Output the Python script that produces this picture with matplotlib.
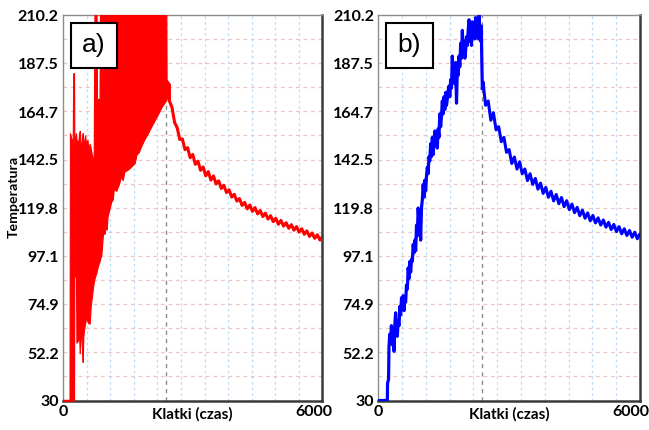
import numpy as np
import matplotlib.pyplot as plt
from matplotlib.patches import Rectangle
from matplotlib.transforms import ScaledTranslation

# axis values
temp_ticks = [30, 52.2, 74.9, 97.1, 119.8, 142.5, 164.7, 187.5, 210.2]
frame_ticks = [0, 6000]
frame_max = 6000
peak_frame = 2385

# panel a: noisy band during heating (frame, lower edge, upper edge)
a_band_frames = [0, 150, 160, 225, 235, 255, 262, 300, 310, 345, 370, 386, 405, 423,
                 440, 455, 470, 486, 510, 539, 565, 590, 617, 640, 665, 694, 710, 728,
                 775, 786, 809, 844, 855, 886, 925, 965, 1000, 1010, 1030, 1080, 1117,
                 1150, 1175, 1232, 1290, 1348, 1380, 1420, 1503, 1560, 1658, 1700, 1750,
                 1810, 1880, 1965, 2040, 2120, 2200, 2273, 2340, 2388, 2395, 2470]
a_band_low = [30, 30, 30, 30, 30, 30, 88, 88, 57, 58, 62, 52, 60, 61,
              54, 48, 60, 63, 66, 69, 67, 66, 66, 74, 78, 83, 85, 87,
              90, 91, 93, 95, 96, 98, 108, 108, 114, 110, 116, 120, 123,
              124, 129, 128, 131, 135, 133, 137, 138, 139, 141, 145, 146,
              149, 152, 155, 158, 161, 164, 167, 169, 170.5, 172, 170]
a_band_high = [30, 30, 155, 150, 183, 183, 150, 155, 152, 150, 154, 156, 150, 148,
               153, 155, 151, 150, 154, 149, 152, 147, 150, 148, 145, 141, 146, 215,
               215, 171, 171, 171, 215, 215, 215, 215, 215, 215, 215, 215, 215,
               215, 215, 215, 215, 215, 215, 215, 215, 215, 215, 215, 215,
               215, 215, 215, 215, 215, 215, 215, 215, 215, 180, 178]

# panel b: noisy rise during heating
b_rise_frames = [0, 207, 212, 235, 245, 262, 284, 300, 322, 340, 360, 380, 398, 418, 436,
                 455, 475, 495, 513, 532, 551, 570, 589, 608, 627, 646, 666, 685, 704,
                 723, 742, 761, 780, 800, 819, 838, 857, 876, 895, 914, 933, 952, 971,
                 990, 1010, 1029, 1048, 1067, 1086, 1105, 1124, 1143, 1162, 1181, 1200,
                 1220, 1239, 1258, 1277, 1296, 1315, 1334, 1353, 1372, 1391, 1410, 1430,
                 1449, 1468, 1487, 1506, 1526, 1545, 1564, 1583, 1602, 1621, 1640, 1659,
                 1678, 1697, 1716, 1735, 1755, 1774, 1793, 1812, 1831, 1850, 1869, 1889,
                 1908, 1927, 1946, 1965, 1984, 2003, 2022, 2042, 2061, 2080, 2099, 2118,
                 2137, 2156, 2175, 2194, 2213, 2232, 2251, 2270, 2290, 2309, 2328, 2345,
                 2362, 2372, 2385]
b_rise_temp = [30, 30, 38, 40, 55, 61, 57, 65, 56, 64, 53, 66, 71, 62, 60,
               67, 65, 74, 70, 78, 74, 79, 72, 77, 76, 84, 82, 92, 87,
               95, 90, 96, 95, 103, 99, 105, 100, 112, 107, 120, 113, 117, 105,
               120, 124, 131, 125, 133, 128, 135, 139, 136, 144, 142, 150,
               144, 153, 145, 151, 156, 150, 155, 148, 157, 153, 164, 158,
               163, 170, 164, 172, 166, 174, 168, 171, 175, 177, 172, 180,
               176, 191, 180, 185, 178, 188, 169, 185, 182, 191, 186, 197,
               190, 203, 192, 198, 190, 194, 200, 196, 203, 208, 198, 203,
               196, 207, 200, 204, 199, 209, 202, 206, 199, 210, 204, 198,
               205, 190, 176]

# cooling tails: saw-tooth ripple, high at frame, low half a ripple later
tail_frames = [2400, 2520, 2640, 2760, 2880, 3000, 3120, 3240, 3360, 3480, 3600, 3720,
               3840, 3960, 4080, 4200, 4320, 4440, 4560, 4680, 4800, 4920, 5040, 5160,
               5280, 5400, 5520, 5640, 5760, 5880, 6000]
a_tail_high = [178, 167, 157.5, 152.3, 148.2, 145.0, 141.9, 139.2, 137.0, 135.0, 132.7,
               130.6, 128.5, 126.4, 124.4, 122.6, 121.4, 120.2, 118.8, 117.6, 116.4,
               115.2, 114.2, 113.1, 112.2, 111.3, 110.3, 109.3, 108.3, 107.5, 106.6]
a_tail_low = [170, 160, 152.0, 147.3, 143.5, 140.4, 137.6, 135.0, 133.0, 131.2, 129.1,
              127.2, 125.1, 123.2, 121.2, 119.6, 118.4, 117.2, 116.0, 114.8, 113.6,
              112.4, 111.5, 110.5, 109.6, 108.7, 107.7, 106.7, 105.8, 105.0, 104.2]
b_tail_high = [179, 170, 164.5, 158.0, 153.0, 147.3, 143.8, 141.6, 138.2, 136.0, 133.8,
               131.6, 129.6, 127.8, 126.3, 124.9, 123.4, 121.8, 120.3, 119.0, 117.7,
               116.5, 115.4, 114.4, 113.3, 112.3, 111.3, 110.3, 109.5, 108.7, 107.9]
b_tail_low = [168, 161, 156.5, 151.0, 146.0, 140.8, 138.2, 136.0, 132.8, 131.0, 128.8,
              126.8, 125.0, 123.3, 122.0, 120.6, 119.2, 117.8, 116.4, 115.2, 114.0,
              113.0, 112.0, 111.0, 109.9, 108.9, 107.9, 107.1, 106.3, 105.6, 104.9]

plt.rcParams['font.family'] = ['Lato', 'DejaVu Sans']

RED = '#ff0000'
BLUE = '#0000ff'


def ripple_line(frames, high, low):
    """Interleave high/low values into one saw-tooth path."""
    half = (frames[1] - frames[0]) / 2
    xs, ys = [], []
    for f, h, l in zip(frames, high, low):
        xs += [f, f + half]
        ys += [h, l]
    return np.array(xs), np.array(ys)


def style_axes(ax, fig, label):
    ax.set_xlim(0, frame_max)
    ax.set_ylim(temp_ticks[0], temp_ticks[-1])

    # grid: pink dashed at every half tick, light blue dotted verticals
    for i in range(1, 2 * (len(temp_ticks) - 1)):
        ax.axhline(temp_ticks[0] + i * (temp_ticks[-1] - temp_ticks[0]) / 16,
                   color='#eec4c4', lw=0.9, ls=(0, (3, 3)), zorder=0)
    for k in range(1, 11):
        ax.axvline(frame_max * k / 11, color='#bcd9f5', lw=0.9, ls=(0, (2, 2.5)), zorder=0)
    ax.axvline(peak_frame, color='#8a8a8a', lw=1.0, ls=(0, (3, 3)), zorder=1)

    ax.set_yticks(temp_ticks)
    ax.set_yticklabels([f'{t:g}' for t in temp_ticks])
    ax.set_xticks(frame_ticks)
    ax.set_xticklabels([str(t) for t in frame_ticks])
    ax.tick_params(length=0, labelsize=11.5, pad=3)
    for t in ax.get_xticklabels() + ax.get_yticklabels():
        t.set_fontweight('bold')
    last = ax.get_xticklabels()[-1]
    last.set_transform(last.get_transform() + ScaledTranslation(-9 / 100, 0, fig.dpi_scale_trans))

    ax.set_xlabel('Klatki (czas)', fontsize=11, fontweight='bold', labelpad=-8)

    for side in ['left', 'top']:
        ax.spines[side].set_color('#8c8c8c')
        ax.spines[side].set_linewidth(1.0)
    for side in ['right', 'bottom']:
        ax.spines[side].set_color('#3a3a3a')
        ax.spines[side].set_linewidth(1.8)

    ax.add_patch(Rectangle((0.031, 0.862), 0.177, 0.118, transform=ax.transAxes,
                           facecolor='white', edgecolor='black', lw=1.5, zorder=5))
    ax.text(0.119, 0.921, label, transform=ax.transAxes, ha='center', va='center',
            fontsize=19, family='Liberation Sans', zorder=6)


fig = plt.figure(figsize=(6.49, 4.30), dpi=100)
ax_a = fig.add_axes([0.0971, 0.0686, 0.3998, 0.8965])
ax_b = fig.add_axes([0.5829, 0.0686, 0.4032, 0.8965])

# panel a
ax_a.fill_between(a_band_frames, a_band_low, a_band_high, color=RED, lw=0.8, zorder=3)
tx, ty = ripple_line(tail_frames, a_tail_high, a_tail_low)
ax_a.plot(tx, ty, color=RED, lw=2.2, zorder=3)
ax_a.plot(a_band_frames[:2], a_band_low[:2], color=RED, lw=2.5, zorder=3)
style_axes(ax_a, fig, 'a)')
ax_a.set_ylabel('Temperatura', fontsize=10.2, fontweight='bold')
ax_a.yaxis.set_label_coords(-0.168, 0.528)

# panel b
ax_b.plot(b_rise_frames, b_rise_temp, color=BLUE, lw=2.3, zorder=3)
tx, ty = ripple_line(tail_frames, b_tail_high, b_tail_low)
ax_b.plot(np.r_[b_rise_frames[-1], tx], np.r_[b_rise_temp[-1], ty], color=BLUE, lw=2.2, zorder=3)
style_axes(ax_b, fig, 'b)')

fig.savefig('out.png', dpi=100, facecolor='white')
